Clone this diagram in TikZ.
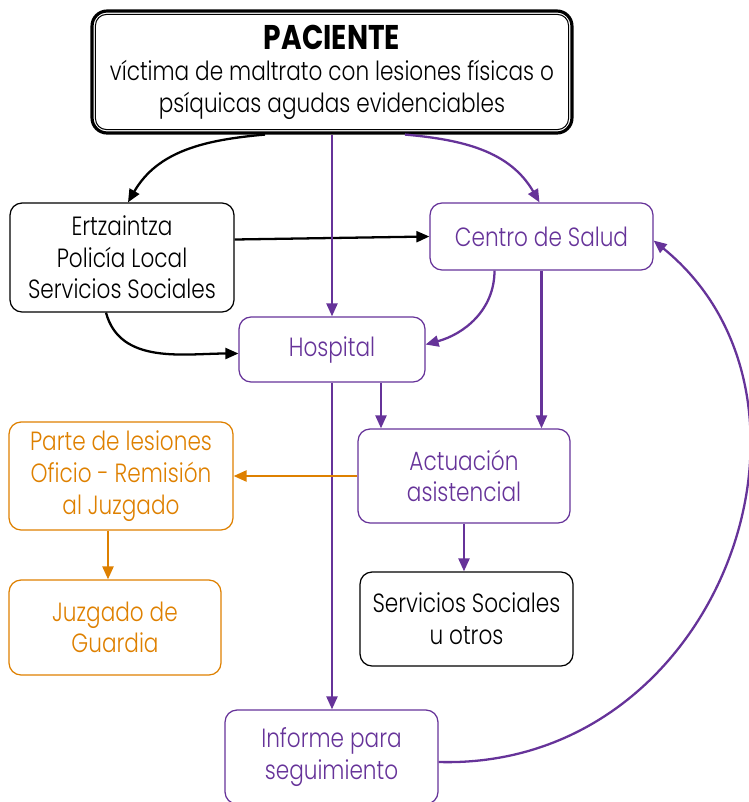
\documentclass[tikz,border=0pt]{standalone}
\usepackage{fontspec}
\IfFontExistsTF{Poppins Light}
  {\setmainfont{Poppins}[UprightFont=* Light, BoldFont=* Bold, FakeStretch=0.82]}
  {\setmainfont{Poppins}[FakeStretch=0.82]}
\usetikzlibrary{calc}
\usetikzlibrary{arrows.meta}

\definecolor{morado}{RGB}{102,51,153}
\definecolor{naranja}{RGB}{222,128,0}

\begin{document}
\begin{tikzpicture}[x=0.02cm, y=0.02cm, font=\fontsize{15}{18}\selectfont,
  caja/.style = {draw, rounded corners=0.24cm, align=center, inner sep=0pt, line width=0.7pt},
  cajamorada/.style = {caja, draw=morado, text=morado},
  cajanaranja/.style = {caja, draw=naranja, text=naranja},
  flecha/.style = {-{Triangle[length=0.26cm, width=0.22cm]}, line width=1.3pt}]
  % Margenes del dibujo
  \useasboundingbox (0,0) rectangle (749,-802);

  % Paciente (doble borde)
  \node[caja, minimum width=9.6cm, minimum height=2.44cm, line width=1.8pt, rounded corners=0.3cm] (paciente) at (332,-72)
    {{\bfseries\fontsize{19.5}{18.5}\selectfont PACIENTE}\\ víctima de maltrato con lesiones físicas o\\ psíquicas agudas evidenciables};
  \draw[line width=0.6pt, rounded corners=0.22cm] ($(paciente.south west)+(5,5)$) rectangle ($(paciente.north east)+(-5,-5)$);

  % Cajas
  \node[caja, minimum width=4.48cm, minimum height=2.18cm] (ertz) at (122,-257.5)
    {Ertzaintza\\ Policía Local\\ Servicios Sociales};
  \node[cajamorada, minimum width=4.46cm, minimum height=1.34cm] (centro) at (541.5,-236.5) {Centro de Salud};
  \node[cajamorada, minimum width=3.72cm, minimum height=1.3cm] (hospital) at (332,-349.5) {Hospital};
  \node[cajamorada, minimum width=4.24cm, minimum height=1.88cm] (actuacion) at (464,-476) {Actuación\\ asistencial};
  \node[cajanaranja, minimum width=4.48cm, minimum height=2.16cm] (parte) at (121,-476)
    {Parte de lesiones\\ Oficio - Remisión\\ al Juzgado};
  \node[cajanaranja, minimum width=4.24cm, minimum height=1.9cm] (juzgado) at (115,-627.5) {Juzgado de\\ Guardia};
  \node[caja, minimum width=4.26cm, minimum height=1.88cm] (servicios) at (466.5,-619) {Servicios Sociales\\ u otros};
  \node[cajamorada, minimum width=4.26cm, minimum height=1.88cm] (informe) at (331.5,-757) {Informe para\\ seguimiento};

  % Flechas negras
  \draw[flecha] ($(paciente.south)+(-67,0)$) to[out=185, in=60] ($(ertz.north)+(6,0)$);
  \draw[flecha] ($(ertz.east)+(0,18)$) -- (centro.west);
  \draw[flecha] ($(ertz.south)+(-16,0)$) to[out=-75, in=180] ($(hospital.west)+(0,-4)$);

  % Flechas moradas
  \draw[flecha, morado] (paciente.south) -- (hospital.north);
  \draw[flecha, morado] ($(paciente.south)+(73,0)$) to[out=-5, in=120] ($(centro.north)+(-2,0)$);
  \draw[flecha, morado] ($(centro.south)+(-47,0)$) to[out=-90, in=15] ($(hospital.east)+(0,5)$);
  \draw[flecha, morado] (centro.south) -- (centro.south |- actuacion.north);
  \coordinate (h2) at ($(hospital.south)+(49,0)$);
  \draw[flecha, morado] (h2) -- (h2 |- actuacion.north);
  \draw[flecha, morado] (hospital.south) -- (hospital.south |- informe.north);
  \draw[flecha, morado] (actuacion.south) -- (actuacion.south |- servicios.north);
  \draw[flecha, morado] ($(informe.east)+(0,-5)$) .. controls (720,-770) and (850,-400) .. ($(centro.east)+(0,-4)$);

  % Flechas naranjas
  \draw[flecha, naranja] (actuacion.west) -- (parte.east);
  \coordinate (p2) at ($(parte.south)+(-13,0)$);
  \draw[flecha, naranja] (p2) -- (p2 |- juzgado.north);
\end{tikzpicture}
\end{document}
